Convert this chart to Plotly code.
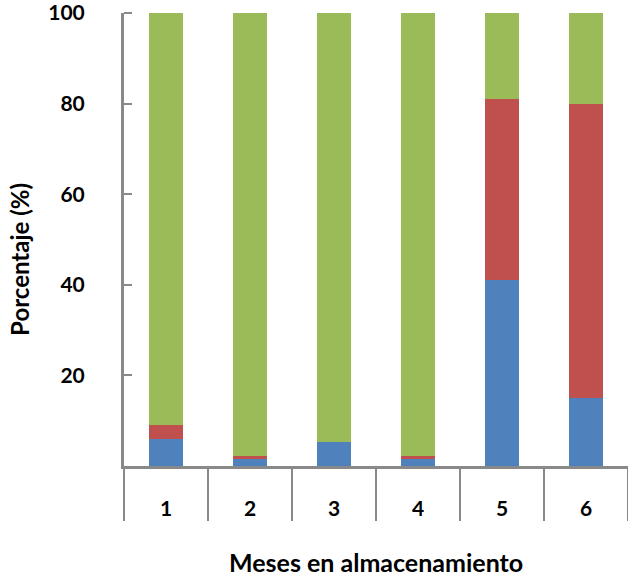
import plotly.graph_objects as go

meses = ["1", "2", "3", "4", "5", "6"]
serie_azul = [6.0, 1.5, 5.2, 1.5, 41.0, 15.0]
serie_roja = [3.0, 0.7, 0.0, 0.7, 40.0, 65.0]
serie_verde = [91.0, 97.8, 94.8, 97.8, 19.0, 20.0]
ytick_vals = [20, 40, 60, 80, 100]
ytick_text = ["20", "40", "60", "80", "100"]

GRAY = "#898989"
FONT = "Lato"

fig = go.Figure()
for name, vals, color in [
    ("Serie 1", serie_azul, "#4F81BD"),
    ("Serie 2", serie_roja, "#C0504D"),
    ("Serie 3", serie_verde, "#9BBB59"),
]:
    fig.add_trace(go.Bar(x=meses, y=vals, name=name, marker=dict(color=color, line=dict(width=0)), width=0.4))

fig.update_layout(
    barmode="stack",
    width=628, height=579,
    margin=dict(l=124, r=0, t=13, b=113),
    paper_bgcolor="white", plot_bgcolor="white",
    showlegend=False,
    font=dict(family=FONT, color="black"),
    xaxis=dict(
        type="category",
        showline=True, linecolor=GRAY, linewidth=3,
        ticks="outside", tickson="boundaries", ticklen=52, tickwidth=2, tickcolor=GRAY,
        ticklabelstandoff=22,
        tickfont=dict(family=FONT, size=21, color="black", weight="bold"),
        showgrid=False, zeroline=False,
    ),
    yaxis=dict(
        range=[0, 100],
        tickmode="array", tickvals=ytick_vals, ticktext=ytick_text,
        showline=True, linecolor=GRAY, linewidth=3,
        ticks="outside", ticklen=32, tickwidth=1, tickcolor="rgba(0,0,0,0)",
        ticklabeloverflow="allow",
        minor=dict(tickmode="array", tickvals=ytick_vals, ticks="inside", ticklen=8,
                   tickwidth=2, tickcolor=GRAY, showgrid=False),
        tickfont=dict(family=FONT, size=21, color="black", weight="bold"),
        showgrid=False, zeroline=False,
    ),
    annotations=[
        dict(text="<b>Porcentaje (%)</b>", textangle=-90, xref="paper", yref="paper",
             x=0, y=0.455, xshift=-104, xanchor="center", yanchor="middle", showarrow=False,
             font=dict(family=FONT, size=24, color="black")),
        dict(text="<b>Meses en almacenamiento</b>", xref="paper", yref="paper",
             x=0.5, y=-0.2185, yshift=3, xanchor="center", yanchor="middle", showarrow=False,
             font=dict(family=FONT, size=25, color="black")),
    ],
)

fig.write_html("out.html", config={"displayModeBar": False},
               post_script="document.body.style.margin='0';document.body.style.overflow='hidden';")
